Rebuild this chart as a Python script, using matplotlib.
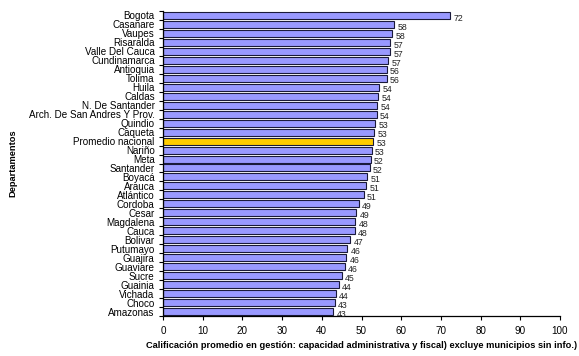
import numpy as np
import matplotlib
import matplotlib.pyplot as plt

matplotlib.use('Agg')
plt.rcParams['font.family'] = ['Liberation Sans', 'DejaVu Sans']

departamentos = ['Bogota', 'Casanare', 'Vaupes', 'Risaralda', 'Valle Del Cauca',
                 'Cundinamarca', 'Antioquia', 'Tolima', 'Huila', 'Caldas',
                 'N. De Santander', 'Arch. De San Andres Y Prov.', 'Quindio',
                 'Caqueta', 'Promedio nacional', 'Nariño', 'Meta', 'Santander',
                 'Boyacá', 'Arauca', 'Atlántico', 'Cordoba', 'Cesar', 'Magdalena',
                 'Cauca', 'Bolivar', 'Putumayo', 'Guajira', 'Guaviare', 'Sucre',
                 'Guainia', 'Vichada', 'Choco', 'Amazonas']
calificacion = [72.3, 58.2, 57.8, 57.2, 57.3, 56.7, 56.4, 56.3, 54.5, 54.2,
                53.9, 53.8, 53.4, 53.2, 52.9, 52.6, 52.3, 52.1, 51.4, 51.2,
                50.6, 49.4, 48.7, 48.4, 48.3, 47.2, 46.4, 46.2, 45.8, 45.0,
                44.3, 43.6, 43.3, 42.9]
etiquetas = ['72', '58', '58', '57', '57', '57', '56', '56', '54', '54',
             '54', '54', '53', '53', '53', '53', '52', '52', '51', '51',
             '51', '49', '49', '48', '48', '47', '46', '46', '46', '45',
             '44', '44', '43', '43']

n = len(departamentos)
pos = np.arange(n)
colors = ['#FFCC00' if d == 'Promedio nacional' else '#9999FF' for d in departamentos]

fig = plt.figure(figsize=(5.79, 3.56), dpi=100)
ax = fig.add_axes([163 / 579, 40 / 356, 397 / 579, 305 / 356])

ax.barh(pos, calificacion, height=0.78, color=colors, edgecolor='#1a1a3a', linewidth=0.8)
for p, v, lab in zip(pos, calificacion, etiquetas):
    ax.text(v + 0.8, p + 0.3, lab, fontsize=6.3, va='center', ha='left', color='#222222')

ax.set_ylim(n - 0.5, -0.5)
ax.set_xlim(0, 100)
ax.set_xticks(np.arange(0, 101, 10))
ax.set_yticks(pos)
ax.set_yticklabels(departamentos, fontsize=7.1)
ax.set_yticks(np.arange(-0.5, n, 1), minor=True)
ax.tick_params(axis='y', which='major', length=0, pad=6)
ax.tick_params(axis='y', which='minor', length=3, width=0.8)
ax.tick_params(axis='x', labelsize=7.1, length=3, width=0.8, pad=4)
ax.spines['top'].set_visible(False)
ax.spines['right'].set_visible(False)
ax.spines['left'].set_linewidth(0.9)
ax.spines['bottom'].set_linewidth(0.9)

ax.set_xlabel('Calificación promedio en gestión: capacidad administrativa y fiscal) excluye municipios sin info.)',
              fontsize=6.7, fontweight='bold', labelpad=4)
ax.set_ylabel('Departamentos', fontsize=6.7, fontweight='bold', labelpad=8)

fig.savefig('out.png', dpi=100)
